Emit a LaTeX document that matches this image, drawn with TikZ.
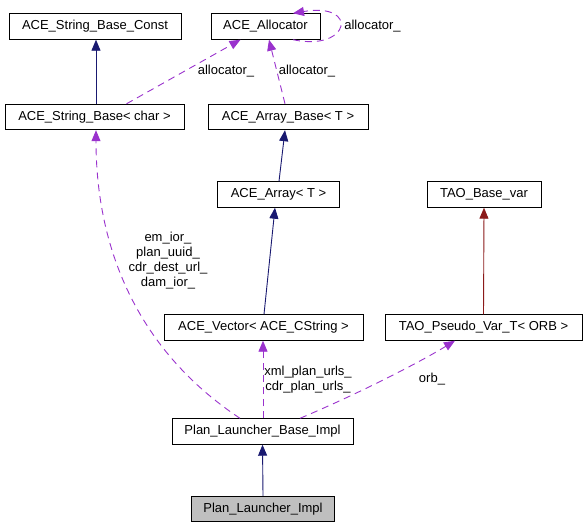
\documentclass[tikz,border=0pt]{standalone}
\usepackage{fontspec}
\setmainfont{Liberation Sans}
\usepackage{tikz}
\usetikzlibrary{shapes}
\usetikzlibrary{arrows,arrows.meta}

\definecolor{inhcol}{HTML}{191970}
\definecolor{usecol}{HTML}{9A32CD}
\definecolor{tplcol}{HTML}{8B1A1A}
\definecolor{boxgray}{HTML}{BFBFBF}

\begin{document}
\begin{tikzpicture}[x=1pt,y=-1pt,
  cls/.style={draw=black,line width=0.9pt,rectangle,minimum height=25.5pt,inner sep=0pt,
              font=\fontsize{13pt}{15pt}\selectfont},
  lbl/.style={align=center,inner sep=0pt,font=\fontsize{13pt}{15pt}\selectfont},
  inh/.style={inhcol,line width=0.9pt,-{Triangle[length=11pt,width=9pt]}},
  tpl/.style={tplcol,line width=0.9pt,-{Triangle[length=11pt,width=9pt]}},
  use/.style={usecol,line width=0.9pt,dash pattern=on 7pt off 5pt,-{Triangle[length=11pt,width=9pt]}}]
  \useasboundingbox (0,0) rectangle (585,527);

% classes, top row
  \node[cls,minimum width=172pt] (strconst) at (95,26.5) {ACE\_String\_Base\_Const};
  \node[cls,minimum width=109pt] (alloc) at (265.5,26.5) {ACE\_Allocator};
  \node[cls,minimum width=179pt] (strbase) at (94.5,117) {ACE\_String\_Base< char >};
  \node[cls,minimum width=160pt] (arraybase) at (288,117) {ACE\_Array\_Base< T >};

% middle rows
  \node[cls,minimum width=122pt] (array) at (278.5,194.5) {ACE\_Array< T >};
  \node[cls,minimum width=114pt] (basevar) at (484,194.5) {TAO\_Base\_var};
  \node[cls,minimum width=199pt] (vector) at (263.5,327.5) {ACE\_Vector< ACE\_CString >};
  \node[cls,minimum width=197pt] (pseudovar) at (483.5,327.5) {TAO\_Pseudo\_Var\_T< ORB >};

% the launcher classes
  \node[cls,minimum width=181pt] (baseimpl) at (262.5,431.5) {Plan\_Launcher\_Base\_Impl};
  \node[cls,minimum width=143pt,fill=boxgray] (impl) at (263,509) {Plan\_Launcher\_Impl};

% inheritance
  \draw[inh] ([xshift=1.5pt]strbase.north) -- ([xshift=1pt]strconst.south);
  \draw[inh] ([xshift=0.5pt]array.north) -- ([xshift=-3pt]arraybase.south);
  \draw[inh] ([xshift=0.5pt]vector.north) -- ([xshift=-3.5pt]array.south);
  \draw[tpl] (pseudovar.north) -- (basevar.south);
  \draw[inh] (impl.north) -- (baseimpl.south);

% usage relations
  \draw[use] ([xshift=32pt]strbase.north) -- ([xshift=-25pt]alloc.south);
  \draw[use] ([xshift=-3pt]arraybase.north) -- ([xshift=3.5pt]alloc.south);
  \draw[use] ([xshift=27.5pt]alloc.south) .. controls (350,52) and (360,2) .. ([xshift=27.5pt]alloc.north);
  \draw[use] ([xshift=-22.5pt]baseimpl.north) .. controls (125,342) and (96,230) .. ([xshift=1.5pt]strbase.south);
  \draw[use] ([xshift=0.5pt]baseimpl.north) -- ([xshift=-0.5pt]vector.south);
  \draw[use] ([xshift=37.5pt]baseimpl.north) .. controls (360,393) and (420,362) .. ([xshift=-28.5pt]pseudovar.south);

% member labels
  \node[lbl] (lalloca) at (226,71) {allocator\_};
  \node[lbl] (lallocb) at (307,71) {allocator\_};
  \node[lbl] (lallocc) at (372.5,26) {allocator\_};
  \node[lbl] (lstr) at (168,260.5) {em\_ior\_\\plan\_uuid\_\\cdr\_dest\_url\_\\dam\_ior\_};
  \node[lbl] (lvec) at (308,379.5) {xml\_plan\_urls\_\\cdr\_plan\_urls\_};
  \node[lbl] (lorb) at (432,379) {orb\_};

\end{tikzpicture}
\end{document}
